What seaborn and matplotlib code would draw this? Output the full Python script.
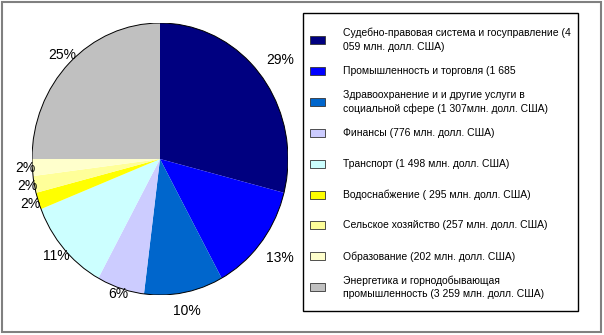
import matplotlib
matplotlib.use("Agg")
import numpy as np
import matplotlib.pyplot as plt
import seaborn as sns
from matplotlib.patches import Rectangle, Ellipse

# ---- data -------------------------------------------------------------
sectors = ["Судебно-правовая система и госуправление", "Промышленность и торговля",
           "Здравоохранение", "Финансы", "Транспорт", "Водоснабжение",
           "Сельское хозяйство", "Образование", "Энергетика"]
shares = [29, 13, 10, 6, 11, 2, 2, 2, 25]
pct_labels = ["29%", "13%", "10%", "6%", "11%", "2%", "2%", "2%", "25%"]
legend_labels = [
    "Судебно-правовая система и госуправление (4\n059 млн. долл. США)",
    "Промышленность и торговля (1 685",
    "Здравоохранение и и другие услуги в\nсоциальной сфере (1 307млн. долл. США)",
    "Финансы (776 млн. долл. США)",
    "Транспорт (1 498 млн. долл. США)",
    "Водоснабжение ( 295 млн. долл. США)",
    "Сельское хозяйство (257 млн. долл. США)",
    "Образование (202 млн. долл. США)",
    "Энергетика и горнодобывающая\nпромышленность (3 259 млн. долл. США)",
]
colors = ["#000080", "#0000FF", "#0066CC", "#CCCCFF", "#CCFFFF",
          "#FFFF00", "#FFFF99", "#FFFFCC", "#C0C0C0"]

# ---- style ------------------------------------------------------------
sns.set_theme(style="white")
plt.rcParams["font.family"] = ["Liberation Sans", "DejaVu Sans"]
palette = sns.color_palette(colors)

W, H = 604, 335
fig = plt.figure(figsize=(W / 100, H / 100), dpi=100)
fig.patch.set_facecolor("white")

# pie axes (slightly taller than wide, like the original)
ax = fig.add_axes([32 / W, (H - 295) / H, 256 / W, 272 / H])
wedges, texts = ax.pie(shares, colors=palette, startangle=90, counterclock=False,
                       labels=pct_labels, labeldistance=1.1,
                       wedgeprops=dict(linewidth=0),
                       textprops=dict(fontsize=10, color="black"))
ax.set_aspect("auto")
ax.set_xlim(-1, 1)
ax.set_ylim(-1, 1)
ax.add_patch(Ellipse((0, 0), 2, 2, fill=False, ec="black", lw=0.7))
ax.axis("off")

# place percentage labels just outside the rim (Excel "outside end" style)
fig.canvas.draw()
renderer = fig.canvas.get_renderer()
sx, sy = ax.bbox.width / 2, ax.bbox.height / 2
for w, t in zip(wedges, texts):
    t.set_ha("center")
    t.set_va("center")
    t.set_clip_on(False)
    th = np.deg2rad((w.theta1 + w.theta2) / 2)
    c, s = np.cos(th), np.sin(th)
    bb = t.get_window_extent(renderer)
    hw, hh = bb.width / 2 / sx, bb.height / 2 / sy
    gap = 0.07 if c > 0.05 else -0.03
    r = 1 + gap + hw * abs(c) + hh * abs(s)
    t.set_position((r * c, r * s))

# legend, drawn in pixel coordinates of the figure
lax = fig.add_axes([0, 0, 1, 1], zorder=-1)
lax.set_xlim(0, W)
lax.set_ylim(H, 0)
lax.axis("off")
row_y0, row_dy = 40, 30.9
for i, (col, lab) in enumerate(zip(palette, legend_labels)):
    y = row_y0 + i * row_dy
    lax.add_patch(Rectangle((310, y - 4), 15, 8, facecolor=col,
                            edgecolor="#333333", linewidth=0.6))
    lax.text(343, y, lab, fontsize=7.45, va="center", ha="left",
             linespacing=1.45, color="black")

# legend frame and outer chart border
lax.add_patch(Rectangle((303, 13), 275, 298, fill=False, ec="black", lw=1))
lax.add_patch(Rectangle((2, 2), 599, 330, fill=False, ec="#808080", lw=1.5))

fig.savefig("out.png", dpi=100)
